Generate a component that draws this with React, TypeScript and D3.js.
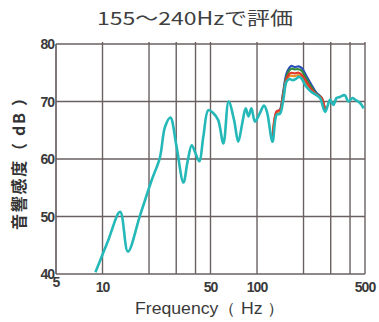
import React from "react";
import * as d3 from "d3";

// main (cyan) response, Hz / dB
const freqs = [9.0, 10.8, 13, 14.6, 17.5, 20.8, 23.5, 25.4, 27.5, 30, 33.4, 35.5, 37.8, 40, 42.3, 45, 48.4, 52, 56, 60.6, 65.5, 71, 75.6, 80, 84.5, 88, 92, 97, 104, 111, 116, 126, 134, 141, 148, 155, 162, 171, 180, 186, 194, 208, 224, 243, 256, 276, 297, 312, 327, 344, 370, 390, 415, 432, 466, 490];
const mainDb = [40.3, 45.6, 50.8, 43.9, 50.2, 56.3, 60.2, 65.6, 67.2, 62.5, 55.9, 59.5, 62.4, 61, 59.6, 64, 68.5, 68, 66.8, 62.7, 70, 66.8, 63, 66, 68.8, 67.4, 68.8, 66.5, 67.9, 69.3, 68.2, 63, 67.7, 67.9, 70.3, 73.4, 73.9, 73.7, 74, 74.3, 74, 72.6, 71.7, 71.1, 70.6, 68.2, 70.3, 69.4, 70.6, 70.8, 71.1, 70, 70.6, 70.3, 69.7, 68.8];

// the other curves only split from the main one around the peak
const peakFreqs = [126, 134, 141, 148, 155, 162, 167, 175, 186, 195, 208, 224, 243, 261, 276];
const blueDb = [63.2, 68, 68.6, 71.8, 74.8, 75.9, 76.2, 76, 76.1, 75.8, 74.5, 73, 71.5, 70.7, 68.4];
const greenDb = [63.2, 67.9, 68.4, 71.5, 74.3, 75.4, 75.7, 75.6, 75.6, 75.3, 74.0, 72.6, 71.3, 70.7, 68.3];
const redDb = [63.2, 68.3, 68.5, 71.2, 73.9, 74.8, 75.0, 74.9, 75.0, 74.6, 73.5, 72.2, 71.2, 70.7, 68.3];
const orangeDb = [63.1, 68.1, 68.2, 70.8, 73.6, 74.4, 74.5, 74.4, 74.6, 74.2, 73.1, 72.0, 71.1, 70.6, 68.3];

const xGrid = [10, 20, 30, 40, 50, 100, 200, 300, 400, 500];
const xTickLabels = [5, 10, 50, 100, 500];
const yTicks = [40, 50, 60, 70, 80];

const W = 379;
const H = 322;
const margin = { top: 44, right: 14, bottom: 48, left: 56 };

const App = () => {
  const x = d3
    .scaleLog()
    .domain([5, 500])
    .range([margin.left, W - margin.right]);
  const y = d3
    .scaleLinear()
    .domain([40, 80])
    .range([H - margin.bottom, margin.top]);

  const line = d3
    .line<[number, number]>()
    .x((d) => x(d[0]))
    .y((d) => y(d[1]))
    .curve(d3.curveCatmullRom.alpha(0.5));

  const zip = (f: number[], v: number[]) =>
    f.map((d, i) => [d, v[i]] as [number, number]);

  const sides = [
    { vals: blueDb, color: "#2b4fb8" },
    { vals: greenDb, color: "#2f8a3c" },
    { vals: orangeDb, color: "#e8922c" },
    { vals: redDb, color: "#e0392b" },
  ];

  const gridColor = "#6a6060";
  const font = "'Liberation Sans', Arial, sans-serif";
  const jp = "'Noto Sans CJK JP', sans-serif";

  return (
    <div style={{ position: "fixed", left: 0, top: 0 }}>
      <svg width={W} height={H} style={{ display: "block", background: "#fff" }}>
        <text
          x={97}
          y={25}
          fontSize={18}
          fontWeight={400}
          fill="#404040"
          fontFamily={jp}
          textLength={196}
          lengthAdjust="spacingAndGlyphs"
        >
          155～240Hzで評価
        </text>

        {yTicks.map((t) => (
          <line
            key={"h" + t}
            x1={x(5)}
            x2={x(500)}
            y1={y(t)}
            y2={y(t)}
            stroke={gridColor}
            strokeWidth={1.7}
          />
        ))}
        <line x1={x(5)} x2={x(5)} y1={y(80)} y2={y(40)} stroke={gridColor} strokeWidth={1.7} />
        {xGrid.map((t) => (
          <line
            key={"v" + t}
            x1={x(t)}
            x2={x(t)}
            y1={y(80) - 2}
            y2={y(40)}
            stroke={gridColor}
            strokeWidth={1.4}
          />
        ))}

        {yTicks.map((t) => (
          <text
            key={"yl" + t}
            x={x(5) - 2}
            y={y(t) + 5}
            textAnchor="end"
            fontSize={14}
            fontWeight="bold"
            letterSpacing={-1}
            fill="#3a3a3a"
            fontFamily={font}
          >
            {t}
          </text>
        ))}
        {xTickLabels.map((t) => (
          <text
            key={"xl" + t}
            x={x(t)}
            y={t === 5 ? 287 : 292}
            textAnchor="middle"
            fontSize={14}
            fontWeight="bold"
            letterSpacing={-1}
            fill="#3a3a3a"
            fontFamily={font}
          >
            {t}
          </text>
        ))}

        {sides.map((s) => (
          <path
            key={s.color}
            d={line(zip(peakFreqs, s.vals)) || ""}
            fill="none"
            stroke={s.color}
            strokeWidth={2.2}
          />
        ))}
        <path
          d={line(zip(freqs, mainDb)) || ""}
          fill="none"
          stroke="#25b8b8"
          strokeWidth={2.6}
          strokeLinejoin="round"
        />

        <text
          x={135}
          y={314}
          fontSize={16}
          fill="#3a3a3a"
          fontFamily={font}
          textLength={150}
          lengthAdjust="spacingAndGlyphs"
        >
          Frequency（ Hz ）
        </text>
        <text
          transform="translate(25,230) rotate(-90)"
          fontSize={16}
          fontWeight="bold"
          fill="#333"
          fontFamily={jp}
          textLength={140}
          lengthAdjust="spacing"
        >
          音響感度（ dB ）
        </text>
      </svg>
    </div>
  );
};

export default App;
